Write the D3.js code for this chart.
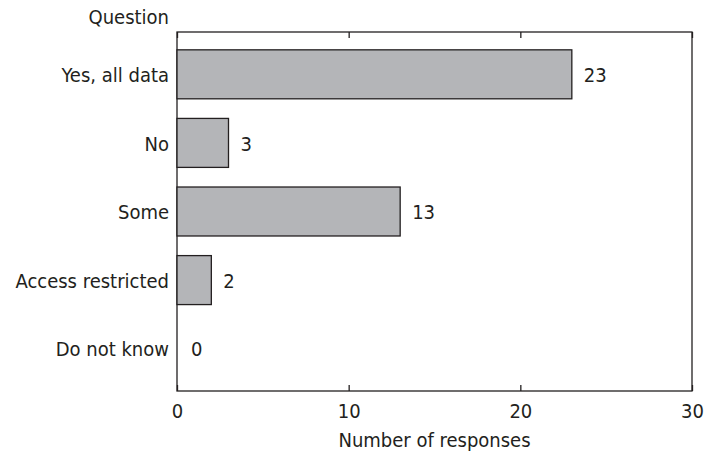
<!DOCTYPE html>
<html><head><meta charset="utf-8">
<script src="https://cdn.jsdelivr.net/npm/d3@7"></script>
<style>
body{margin:0;background:#fff;}
text{font-family:"DejaVu Sans Condensed","DejaVu Sans",sans-serif;font-stretch:condensed;fill:#231f20;}
</style></head><body>
<svg id="c" width="704" height="459"></svg>
<script>
const categories = ["Yes, all data","No","Some","Access restricted","Do not know"];
const values = [23,3,13,2,0];
const xTicks = [0,10,20,30];
const yAxisTitle = "Question";
const xAxisTitle = "Number of responses";

const svg = d3.select("#c");
const m = {left:177, right:692, top:32, bottom:391};
const fs = 20;
const x = d3.scaleLinear().domain([0,30]).range([m.left,m.right]);
const y = d3.scaleBand().domain(categories).range([m.top,m.bottom]).paddingInner(0.286).paddingOuter(0.26);
const ink = "#231f20";

svg.append("rect").attr("x",m.left).attr("y",m.top).attr("width",m.right-m.left).attr("height",m.bottom-m.top)
  .attr("fill","none").attr("stroke",ink).attr("stroke-width",1.3);

const bx = svg.append("g").attr("transform",`translate(0,${m.bottom})`)
  .call(d3.axisBottom(x).tickValues(xTicks).tickSize(-6).tickPadding(13).tickFormat(d3.format("d")));
bx.select(".domain").remove();
bx.selectAll("line").attr("stroke",ink).attr("stroke-width",1.3);
bx.selectAll("text").attr("font-size",fs).attr("fill",ink).style("font-family",null);

const tx = svg.append("g").attr("transform",`translate(0,${m.top})`)
  .call(d3.axisTop(x).tickValues(xTicks).tickSize(-6).tickFormat(""));
tx.select(".domain").remove();
tx.selectAll("line").attr("stroke",ink).attr("stroke-width",1.3);

const ly = svg.append("g").attr("transform",`translate(${m.left},0)`)
  .call(d3.axisLeft(y).tickSize(0).tickPadding(8));
ly.select(".domain").remove();
ly.selectAll("text").attr("font-size",fs).attr("fill",ink).style("font-family",null).attr("dy","0.38em");

svg.selectAll("rect.bar").data(values.map((v,i)=>({v,c:categories[i]})).filter(d=>d.v>0))
  .enter().append("rect").attr("class","bar")
  .attr("x",x(0)).attr("y",d=>y(d.c)).attr("width",d=>x(d.v)-x(0)).attr("height",y.bandwidth())
  .attr("fill","#b4b5b8").attr("stroke",ink).attr("stroke-width",1.3);

svg.selectAll("text.val").data(values.map((v,i)=>({v,c:categories[i]})))
  .enter().append("text").attr("class","val")
  .attr("x",d=>x(d.v)+ (d.v>0?12:14)).attr("y",d=>y(d.c)+y.bandwidth()/2).attr("dy","0.38em")
  .attr("font-size",fs).text(d=>d.v);

svg.append("text").attr("x",m.left-8).attr("y",24).attr("text-anchor","end").attr("font-size",fs).text(yAxisTitle);
svg.append("text").attr("x",(m.left+m.right)/2).attr("y",447).attr("text-anchor","middle").attr("font-size",fs).text(xAxisTitle);
</script>
</body></html>
